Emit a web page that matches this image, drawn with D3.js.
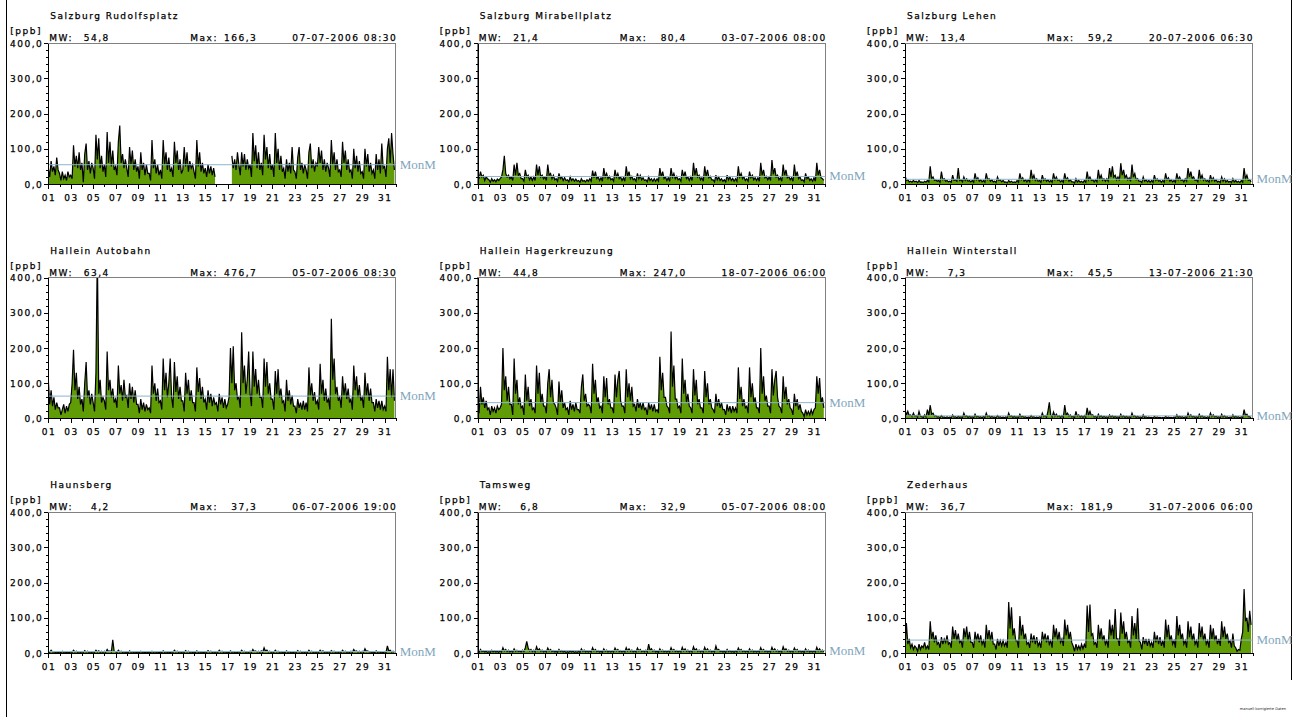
<!DOCTYPE html>
<html>
<head>
<meta charset="utf-8">
<script src="https://cdn.jsdelivr.net/npm/d3@7"></script>
<style>
  html, body { margin: 0; padding: 0; background: #fff; }
  svg { display: block; }
  .plotter {
    font-family: "DejaVu Sans", "Liberation Sans", sans-serif;
    font-size: 9px; letter-spacing: 1.5px;
    fill: #000; stroke: #000; stroke-width: 0.25px;
  }
  .monm { font-family: "Liberation Serif", "DejaVu Serif", serif; font-size: 13px; fill: #7fa6bd; }
</style>
</head>
<body>
<svg id="chart" width="1297" height="717"></svg>
<script>
// NO concentrations, July 2006, one panel per monitoring station
const stationNames = [
  "Salzburg Rudolfsplatz", "Salzburg Mirabellplatz", "Salzburg Lehen",
  "Hallein Autobahn", "Hallein Hagerkreuzung", "Hallein Winterstall",
  "Haunsberg", "Tamsweg", "Zederhaus"
];
const monthlyMeans  = [54.8, 21.4, 13.4, 63.4, 44.8, 7.3, 4.2, 6.8, 36.7];
const monthlyMaxima = [166.3, 80.4, 59.2, 476.7, 247.0, 45.5, 37.3, 32.9, 181.9];
const maxTimestamps = [
  "07-07-2006 08:30", "03-07-2006 08:00", "20-07-2006 06:30",
  "05-07-2006 08:30", "18-07-2006 06:00", "13-07-2006 21:30",
  "06-07-2006 19:00", "05-07-2006 08:00", "31-07-2006 06:00"
];
const samplesPerDay = 8;   // 00, 03, 06 ... 21 h
const yTickValues = [0, 100, 200, 300, 400];
const dayTickLabels = ["01","03","05","07","09","11","13","15","17","19","21","23","25","27","29","31"];
const unitLabel = "[ppb]";
const meanLabel = "MonM";
const footnote = "manuell korrigierte Daten";

// 3-hourly values, two days per row
const rudolfsplatz = [
  45,20,65,35,50,25,75,40,   30,10,35,15,25,10,35,20,
  25,15,110,50,80,45,90,40,  60,5,85,115,40,65,30,60,
  45,15,140,70,130,45,80,35, 55,20,148,60,120,50,95,40,
  50,25,120,166.3,60,85,45,70, 45,20,105,55,95,40,70,35,
  50,15,90,40,60,25,55,30,   30,10,125,45,70,30,55,25,
  40,15,125,55,90,40,75,35,  45,20,120,60,95,40,70,30,
  40,105,50,90,35,65,45,55,  35,15,125,50,90,35,60,30,
  45,20,55,30,50,25,45,20,   null,null,null,null,null,null,null,null,
  null,null,null,80,45,70,40,90, 55,25,90,50,85,40,70,45,
  55,20,145,65,110,45,90,40, 60,25,140,70,105,45,85,40,
  55,20,145,60,100,40,80,35, 45,15,70,35,60,30,105,40,
  35,15,75,105,40,60,30,55,  40,15,90,115,45,70,35,60,
  50,105,60,95,40,70,35,60,  45,20,125,55,90,40,70,35,
  40,20,120,60,95,40,70,35,  40,15,100,45,80,35,65,30,
  35,15,100,50,85,35,60,30,  40,15,85,40,70,30,115,45,
  50,20,100,130,60,145,85,40
];
const mirabellplatz = [
  30,15,35,20,25,10,20,15,   12,5,15,8,12,6,14,10,
  15,20,40,80.4,30,20,25,15, 20,10,55,25,60,25,30,15,
  15,8,40,20,25,12,20,10,    20,10,55,25,50,20,25,15,
  20,10,55,25,30,15,25,12,   15,8,30,15,20,10,18,10,
  12,6,20,10,15,8,14,8,      10,5,15,8,10,6,12,8,
  15,8,38,18,35,15,20,10,    18,8,45,20,30,15,22,12,
  15,8,40,20,30,15,20,10,    18,8,50,22,35,15,22,12,
  15,8,30,15,25,12,18,10,    12,6,20,10,15,8,15,8,
  15,8,45,20,35,15,20,10,    18,8,45,20,30,15,22,12,
  15,8,40,20,35,15,20,10,    20,10,60,25,45,20,25,12,
  18,8,50,22,40,18,22,12,    12,6,25,12,20,10,15,8,
  12,6,25,12,20,10,16,8,     15,8,50,20,30,15,20,10,
  15,8,35,18,25,12,18,10,    18,8,60,25,40,18,22,12,
  20,10,68,28,45,20,25,12,   18,8,55,25,40,18,22,12,
  18,8,55,22,35,15,20,10,    12,6,30,15,20,10,15,8,
  18,8,60,25,40,18,15,10
];
const lehen = [
  25,10,12,6,8,5,10,6,       8,4,10,5,6,4,8,5,
  10,6,50,15,20,10,12,8,     10,5,35,12,15,8,10,6,
  8,5,25,10,12,8,45,10,      12,6,20,10,15,8,10,6,
  10,5,30,12,18,8,12,6,      10,5,30,12,15,8,12,6,
  8,4,20,10,12,6,10,5,       6,3,10,5,8,4,6,4,
  10,5,30,12,18,8,12,6,      12,6,40,15,25,10,15,8,
  10,5,25,10,15,8,12,6,      10,5,30,12,20,10,12,6,
  10,5,30,12,18,8,12,6,      6,3,15,6,10,5,8,4,
  10,5,35,12,20,10,12,6,     12,6,40,15,25,10,15,8,
  15,8,45,20,50,20,25,12,    20,10,59.2,25,40,18,25,12,
  18,8,55,20,30,12,15,8,     8,4,20,8,12,6,10,5,
  10,5,25,10,15,8,10,5,      10,5,30,12,18,8,12,6,
  10,5,30,12,20,10,12,6,     15,8,45,20,35,15,20,10,
  12,6,40,15,25,10,15,8,     10,5,25,10,18,8,12,6,
  8,4,20,8,15,6,10,5,        8,4,15,6,10,5,8,4,
  10,5,45,15,25,10,12,6
];
const autobahn = [
  110,40,80,35,60,25,45,30,  30,10,25,40,15,35,20,40,
  45,100,195,80,130,55,90,40, 55,20,100,160,60,80,40,70,
  45,20,130,476.7,70,110,45,60, 50,25,190,80,110,60,85,45,
  55,30,150,70,95,50,110,60, 65,30,100,55,90,45,80,40,
  40,15,55,25,45,20,40,25,   30,15,150,70,100,50,85,45,
  50,25,170,80,130,60,100,170, 60,30,160,75,120,55,90,50,
  50,20,130,70,110,50,80,45, 45,20,145,75,115,55,90,45,
  55,25,80,45,70,35,60,40,   45,20,70,40,60,30,55,30,
  40,60,200,100,205,80,100,55, 60,30,245,100,150,70,110,190,
  70,35,190,90,140,70,110,60, 60,30,170,90,160,70,100,55,
  55,25,135,70,140,60,85,45, 50,20,110,50,80,40,65,35,
  35,15,55,30,45,25,50,25,   45,20,145,65,100,50,75,40,
  50,25,155,70,110,50,85,45, 55,25,283,110,170,70,90,50,
  60,30,120,65,100,55,85,45, 55,25,150,80,120,60,95,50,
  60,30,130,65,100,50,85,45, 45,20,55,30,50,25,50,25,
  35,20,175,80,140,60,140,50
];
const hagerkreuzung = [
  30,15,90,40,60,30,50,25,   30,10,35,20,30,15,35,25,
  30,40,200,80,120,50,90,40, 40,10,170,70,110,40,60,30,
  35,10,125,50,90,35,55,25,  30,15,150,70,130,45,70,35,
  35,15,100,140,60,110,45,40, 30,10,105,45,80,30,45,25,
  30,10,50,25,40,20,45,25,   25,15,90,125,50,70,35,40,
  35,15,155,70,110,45,60,30, 35,15,120,60,115,40,55,30,
  30,15,125,60,110,135,50,35, 35,15,140,60,100,50,90,35,
  40,20,55,30,45,25,45,25,   30,10,45,25,40,20,40,20,
  25,15,175,80,130,60,60,35, 30,15,247.0,90,150,55,55,30,
  35,15,170,70,110,45,70,35, 30,15,140,65,110,40,55,30,
  30,15,135,60,100,40,55,30, 25,15,70,35,55,30,45,25,
  25,10,40,20,35,15,35,20,   30,15,145,55,90,35,55,30,
  35,15,145,60,100,45,60,30, 30,15,200,70,120,50,65,35,
  35,15,140,65,110,135,60,35, 30,15,120,55,90,40,55,30,
  25,10,70,35,55,25,40,20,   15,5,25,10,20,10,25,12,
  25,30,120,70,115,45,60,30
];
const winterstall = [
  25,10,20,8,10,5,15,6,      8,3,20,6,5,3,10,4,
  25,8,38,12,15,6,8,4,       5,2,8,3,4,2,5,2,
  4,2,10,4,5,2,6,3,          5,2,15,5,8,3,6,3,
  5,2,12,4,6,3,5,2,          6,2,15,5,8,3,6,3,
  4,2,8,3,5,2,4,2,           5,2,15,5,8,3,6,3,
  5,2,12,4,6,3,5,2,          4,2,8,3,5,2,4,2,
  5,2,15,5,8,3,20,45.5,      10,4,18,6,12,5,8,3,
  8,3,38,10,15,6,10,4,       6,2,20,6,10,4,8,3,
  8,3,30,10,20,8,10,4,       6,2,12,4,8,3,6,3,
  5,2,10,4,8,3,6,3,          5,2,12,4,8,3,6,3,
  5,2,15,5,8,3,6,3,          4,2,10,3,5,2,4,2,
  3,1,6,2,4,2,3,1,           3,1,6,2,4,2,3,1,
  4,2,10,3,6,3,5,2,          5,2,15,5,10,4,6,3,
  5,2,12,4,8,3,5,2,          5,2,15,5,10,4,6,3,
  5,2,12,4,8,3,5,2,          4,2,10,3,6,3,5,2,
  5,2,25,8,12,5,5,2
];
const haunsberg = [
  5,2,8,3,4,2,3,1,           3,1,5,2,3,1,3,1,
  4,2,8,3,5,2,4,2,           4,2,7,3,5,2,4,2,
  4,2,8,3,6,2,5,2,           5,2,10,4,6,3,37.3,5,
  4,2,8,3,5,2,4,2,           3,1,6,2,4,2,3,1,
  3,1,5,2,3,1,3,1,           3,1,5,2,4,2,3,1,
  3,1,6,2,4,2,3,1,           4,2,8,3,5,2,4,2,
  4,2,7,3,5,2,4,2,           3,1,6,2,4,2,3,1,
  4,2,7,3,5,2,4,2,           4,2,8,3,5,2,4,2,
  3,1,6,2,4,2,3,1,           4,2,8,3,5,2,4,2,
  5,2,10,4,6,3,5,2,          6,2,15,5,8,3,5,2,
  4,2,8,3,5,2,4,2,           3,1,6,2,4,2,3,1,
  4,2,7,3,5,2,4,2,           4,2,8,3,5,2,4,2,
  4,2,8,3,6,2,4,2,           4,2,7,3,5,2,4,2,
  4,2,8,3,5,2,4,2,           5,2,10,4,6,3,5,2,
  5,2,12,4,6,3,4,2,          3,1,6,2,4,2,3,1,
  4,2,20,6,8,3,5,2
];
const tamsweg = [
  5,2,10,4,6,3,5,2,          4,2,8,3,6,3,5,2,
  6,3,15,6,10,4,8,3,         6,3,12,5,8,4,6,3,
  8,4,15,32.9,15,6,10,4,     8,3,18,7,12,5,8,3,
  6,3,14,6,10,4,7,3,         5,2,10,4,7,3,5,2,
  4,2,6,3,5,2,4,2,           5,2,12,5,8,3,6,3,
  6,3,15,6,10,4,7,3,         5,2,12,5,8,3,6,3,
  6,3,14,6,10,4,7,3,         6,3,15,6,12,5,8,3,
  6,3,14,6,10,4,7,3,         8,3,25,8,12,5,8,3,
  5,2,12,5,8,3,6,3,          6,3,15,6,10,4,7,3,
  6,3,16,6,12,5,8,3,         7,3,18,7,12,5,8,3,
  7,3,16,6,12,5,8,3,         6,3,20,7,10,4,6,3,
  5,2,10,4,7,3,5,2,          6,3,14,6,10,4,7,3,
  6,3,12,5,8,3,6,3,          6,3,15,6,10,4,7,3,
  6,3,16,6,12,5,8,3,         7,3,18,7,12,5,8,3,
  6,3,14,6,10,4,7,3,         5,2,12,5,8,3,6,3,
  6,3,16,6,12,5,8,3
];
const zederhaus = [
  20,85,25,40,15,25,10,20,   15,5,25,10,20,15,30,12,
  20,10,90,40,60,30,50,25,   30,15,45,25,40,30,50,25,
  30,15,75,40,65,35,55,30,   35,15,70,45,75,35,60,30,
  30,15,60,35,55,30,50,25,   35,15,80,40,65,35,60,25,
  25,10,40,20,35,20,35,20,   30,15,145,70,130,50,70,35,
  35,15,105,50,80,40,55,25,  30,15,55,30,50,25,45,20,
  30,15,60,35,55,30,50,25,   35,15,80,45,70,35,60,30,
  40,20,95,50,80,40,60,30,   20,5,25,10,20,10,25,12,
  25,15,135,60,138,50,55,25, 30,15,80,40,70,35,50,25,
  35,15,95,50,80,40,125,40,  40,20,115,55,90,40,60,30,
  35,15,105,50,85,40,127,35, 30,10,45,25,40,20,40,20,
  30,15,60,30,50,25,45,20,   35,15,95,45,80,35,50,25,
  35,15,105,50,80,40,55,25,  35,15,90,45,75,35,55,25,
  35,15,85,45,75,35,55,25,   35,15,80,40,70,35,50,25,
  40,20,90,45,75,40,55,30,   35,15,55,20,15,5,10,8,
  40,60,181.9,90,100,60,120,80
];

const seriesList = [
  rudolfsplatz, mirabellplatz, lehen,
  autobahn, hagerkreuzung, winterstall,
  haunsberg, tamsweg, zederhaus
];

// ---- layout ----
const colLeft = [48.3, 477.7, 905];
const rowTop = [43.3, 277.7, 512.3];
const plotW = 347.5;
const plotH = 140.7;
const green = "#5f9c06";
const meanColor = "#8db5cb";

const fmt1 = v => d3.format(".1f")(v).replace(".", ",");
const svg = d3.select("#chart");

function label(g, x, y, s, anchor) {
  return g.append("text")
    .attr("class", "plotter")
    .attr("x", x).attr("y", y)
    .attr("text-anchor", anchor || "start")
    .text(s);
}

// page frame
svg.append("line").attr("x1", 6.5).attr("x2", 6.5).attr("y1", 0).attr("y2", 717)
  .attr("stroke", "#000").attr("stroke-width", 1);
svg.append("line").attr("x1", 1291.5).attr("x2", 1291.5).attr("y1", 0).attr("y2", 680)
  .attr("stroke", "#000").attr("stroke-width", 1);
svg.append("text")
  .attr("x", 1286).attr("y", 710).attr("text-anchor", "end")
  .attr("font-family", "DejaVu Sans, sans-serif").attr("font-size", 3.6)
  .attr("fill", "#222").text(footnote);

stationNames.forEach((name, k) => {
  const L = colLeft[k % 3];
  const T = rowTop[Math.floor(k / 3)];
  const values = seriesList[k];

  const x = d3.scaleLinear().domain([0, 31]).range([L, L + plotW]);
  const y = d3.scaleLinear().domain([0, 400]).range([T + plotH, T]);
  const g = svg.append("g");

  const clipId = "clip" + k;
  g.append("clipPath").attr("id", clipId)
    .append("rect").attr("x", L).attr("y", T).attr("width", plotW).attr("height", plotH);

  // measured series: filled area with its outline
  const area = d3.area()
    .defined(v => v != null)
    .x((v, i) => x(i / samplesPerDay))
    .y0(y(0))
    .y1(v => y(v));
  const line = d3.line()
    .defined(v => v != null)
    .x((v, i) => x(i / samplesPerDay))
    .y(v => y(v));

  const pg = g.append("g").attr("clip-path", `url(#${clipId})`);
  pg.append("path").datum(values).attr("d", area).attr("fill", green);
  pg.append("path").datum(values).attr("d", line)
    .attr("fill", "none").attr("stroke", "#000").attr("stroke-width", 1.2);

  // plot frame
  g.append("rect").attr("x", L).attr("y", T).attr("width", plotW).attr("height", plotH)
    .attr("fill", "none").attr("stroke", "#808080").attr("stroke-width", 1)
    .attr("shape-rendering", "crispEdges");

  // monthly mean line and its label
  g.append("line")
    .attr("x1", L).attr("x2", L + plotW)
    .attr("y1", y(monthlyMeans[k])).attr("y2", y(monthlyMeans[k]))
    .attr("stroke", meanColor).attr("stroke-width", 1);
  g.append("text").attr("class", "monm")
    .attr("x", L + plotW + 4).attr("y", y(monthlyMeans[k]) + 4)
    .text(meanLabel);

  // y axis: major and minor ticks
  const yMinor = d3.axisLeft(y).tickValues(d3.range(0, 401, 20)).tickSize(2).tickSizeOuter(0).tickFormat("");
  const yMajor = d3.axisLeft(y).tickValues(yTickValues).tickSize(4).tickSizeOuter(0).tickFormat("");
  [yMinor, yMajor].forEach(ax => {
    const a = g.append("g").attr("transform", `translate(${L},0)`).call(ax);
    a.selectAll("path, line").attr("stroke", "#000").attr("shape-rendering", "crispEdges");
  });
  yTickValues.forEach(v => label(g, L - 5, y(v) + 3.5, fmt1(v), "end"));

  // x axis: a tick per day, longer where labelled
  const xMinor = d3.axisBottom(x).tickValues(d3.range(0, 32)).tickSize(3).tickSizeOuter(0).tickFormat("");
  const labelled = dayTickLabels.map(s => +s - 1);
  const xMajor = d3.axisBottom(x).tickValues(labelled).tickSize(5).tickSizeOuter(0).tickFormat("");
  [xMinor, xMajor].forEach(ax => {
    const a = g.append("g").attr("transform", `translate(0,${T + plotH})`).call(ax);
    a.selectAll("path, line").attr("stroke", "#000").attr("shape-rendering", "crispEdges");
  });
  dayTickLabels.forEach(s => label(g, x(+s - 1) + 0.75, T + plotH + 16.7, s, "middle"));

  // titles and header line
  label(g, L + 2, T - 24, name);
  label(g, L - 38, T - 9, unitLabel);
  label(g, L + 1, T - 2, "MW:");
  label(g, L + 61.5, T - 2, fmt1(monthlyMeans[k]), "end");
  label(g, L + 142, T - 2, "Max:");
  label(g, L + 209, T - 2, fmt1(monthlyMaxima[k]), "end");
  label(g, L + plotW + 1.5, T - 2, maxTimestamps[k], "end");
});
</script>
</body>
</html>
